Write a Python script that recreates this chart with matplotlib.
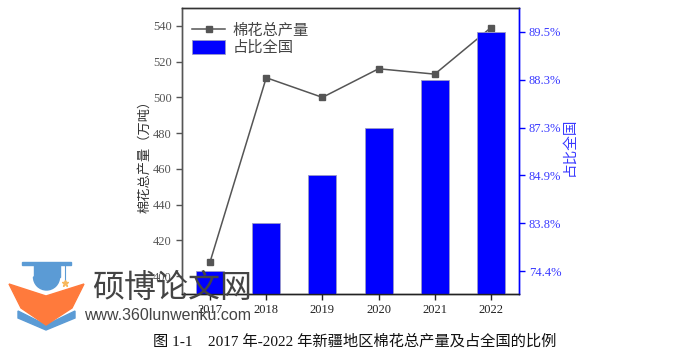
import matplotlib
matplotlib.use('Agg')
import matplotlib.pyplot as plt
from matplotlib.patches import Polygon, Wedge
import numpy as np

plt.rcParams['font.family'] = ['Liberation Serif', 'Noto Sans CJK SC']

years = ['2017', '2018', '2019', '2020', '2021', '2022']
output = [408, 511, 500, 516, 513, 539]
share = [74.4, 83.8, 84.9, 87.3, 88.3, 89.5]
share_labels = ['74.4%', '83.8%', '84.9%', '87.3%', '88.3%', '89.5%']
left_ticks = [400, 420, 440, 460, 480, 500, 520, 540]

GRAY = '#555555'
BLUE = '#0000ff'

# right axis in the source is evenly spaced by rank, not linear
scale_pct = [70, 74.4, 83.8, 84.9, 87.3, 88.3, 89.5, 90.5]
scale_pos = [-0.48, 0, 1, 2, 3, 4, 5, 5.5]


def to_pos(v):
    return np.interp(v, scale_pct, scale_pos)


def to_pct(p):
    return np.interp(p, scale_pos, scale_pct)


W, H = 697, 352
fig = plt.figure(figsize=(W/100, H/100), dpi=100)
ax = fig.add_axes([182/W, 1-294/H, 337/W, 286/H])
ax2 = ax.twinx()
x = np.arange(len(years))

ax2.set_yscale('function', functions=(to_pos, to_pct))
bars = ax2.bar(x, share, width=0.5, color=BLUE, edgecolor='#9a9ac8', linewidth=0.6,
               label='占比全国')
ax2.set_ylim(70, 90.5)
ax2.set_yticks(share)
ax2.set_yticklabels(share_labels)
ax2.minorticks_off()
ax2.tick_params(axis='y', colors=BLUE, labelcolor='#3a3aff', labelsize=9, length=4, width=1, pad=3)
ax2.set_ylabel('占比全国', color='#3a3aff', fontsize=10.5)
ax2.yaxis.set_label_coords(1.13, 0.514)

# bars were drawn over the line in the original
ax.set_zorder(ax2.get_zorder() - 1)
ax2.patch.set_visible(False)
line, = ax.plot(x, output, color=GRAY, marker='s', markersize=4, linewidth=1.1,
                label='棉花总产量')
ax.set_xlim(-0.5, 5.5)
ax.set_ylim(390, 550)
ax.set_xticks(x)
ax.set_xticklabels(years)
ax.set_yticks(left_ticks)
ax.tick_params(axis='both', colors=GRAY, labelsize=9, length=4, width=1)
ax.tick_params(axis='x', colors='#222222')
ax.set_ylabel('棉花总产量（万吨）', color='#333333', fontsize=9.5)
ax.yaxis.set_label_coords(-0.092, 0.49)

for a in (ax, ax2):
    a.spines['top'].set_color('#333333')
    a.spines['bottom'].set_color('#222222')
    a.spines['left'].set_color(GRAY)
    a.spines['right'].set_color(BLUE)
    a.spines['left'].set_linewidth(1.0)
    a.spines['right'].set_linewidth(1.0)
    a.spines['top'].set_linewidth(1.0)
    a.spines['bottom'].set_linewidth(1.0)

leg = ax2.legend([line, bars], ['棉花总产量', '占比全国'], loc='upper left',
                 bbox_to_anchor=(-0.012, 1.0), frameon=False, fontsize=11,
                 labelcolor='#444444', handlelength=2.1, handleheight=1.0,
                 labelspacing=0.15, handletextpad=0.55, borderaxespad=0.55)

fig.text(355/W, 1-341/H, '图 1-1    2017 年-2022 年新疆地区棉花总产量及占全国的比例',
         ha='center', va='center', fontsize=11, color='#111111')

# watermark overlay in pixel coordinates
ov = fig.add_axes([0, 0, 1, 1], zorder=10)
ov.set_xlim(0, W)
ov.set_ylim(H, 0)
ov.axis('off')
ov.add_patch(Polygon([(22, 262), (71, 262), (71, 264.5), (22, 264.5)], color='#5b9bd5'))
ov.add_patch(Wedge((46.5, 277), 13, 0, 180, color='#5b9bd5'))
ov.add_patch(Polygon([(33.5, 264), (59.5, 264), (59.5, 277), (33.5, 277)], color='#5b9bd5'))
ov.add_patch(Polygon([(18, 311), (46, 325), (75, 311), (75, 318), (46, 330), (18, 318)],
                     color='#5b9bd5'))
ov.add_patch(Polygon([(9, 284), (46, 296), (84, 284), (72, 308), (46, 325), (21, 308)],
                     color='#ff7a3c'))
ov.plot([65, 65], [264, 282], color='#5b9bd5', lw=0.8)
ov.plot([65], [283], marker='*', color='#f7b85c', ms=5)
ov.text(172, 288, '硕博论文网', ha='center', va='center', fontsize=23, color='#444444',
        family=['Noto Sans CJK SC'])
ov.text(168, 315, 'www.360lunwenku.com', ha='center', va='center', fontsize=11.5,
        color='#444444', family=['Liberation Sans'])

fig.savefig('out.png', dpi=100)
